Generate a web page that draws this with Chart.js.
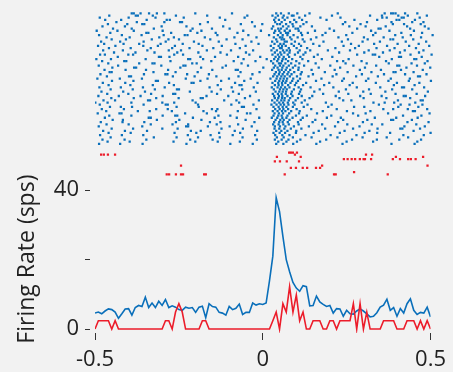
<!DOCTYPE html>
<html>
<head>
<meta charset="utf-8">
<script src="https://cdn.jsdelivr.net/npm/chart.js@4.4.1/dist/chart.umd.min.js"></script>
<style>
  body { margin: 0; background: #f2f2f2; }
  #wrap { position: relative; width: 453px; height: 372px; }
  canvas { position: absolute; left: 0; }
  #raster { top: 0; }
  #psth { top: 166px; }
</style>
</head>
<body>
<div id="wrap">
  <canvas id="raster" width="453" height="182"></canvas>
  <canvas id="psth" width="453" height="206"></canvas>
</div>
<script>
// spike times (ms) per trial, blue condition
const blueTrials = [
  [-392,-386,-366,-341,-318,-296,-205,-97,33,47,70,95,131,214,352,371,377,384,412,448],
  [-458,-380,-374,-330,-262,-170,-52,22,38,55,79,84,118,197,309,344,392,420,476],
  [-486,-401,-322,-239,-133,-60,31,52,66,101,163,222,345,358,402,408,455],
  [-470,-423,-348,-289,-280,-117,27,41,58,86,109,181,263,330,387,395,441],
  [-437,-377,-296,-250,-244,-168,-38,30,49,74,92,122,236,300,372,433,466],
  [-462,-405,-361,-355,-191,-71,-8,36,44,62,81,113,229,281,376,409,458],
  [-478,-412,-304,-231,-123,-30,24,53,69,83,104,138,248,296,355,418,470],
  [-447,-392,-327,-213,-156,-104,20,39,47,64,90,97,190,271,334,340,427,481],
  [-495,-434,-386,-301,-219,-187,-64,-12,30,42,58,73,99,147,203,312,366,438],
  [-455,-349,-343,-276,-199,-145,-81,27,46,62,68,106,126,178,257,325,401,462],
  [-488,-421,-363,-298,-236,-228,-140,-49,12,38,52,66,84,109,169,239,318,383,429,493],
  [-466,-398,-311,-268,-177,-90,-25,26,44,51,74,96,151,216,291,349,405,459],
  [-451,-409,-333,-284,-253,-161,-113,-66,33,49,56,78,111,135,244,302,369,377,436],
  [-482,-426,-357,-292,-209,-136,-40,21,36,58,64,88,116,172,226,287,338,414,474],
  [-473,-416,-370,-307,-242,-195,-87,-19,28,45,55,78,100,142,253,321,390,452],
  [-491,-440,-358,-315,-265,-184,-127,-57,17,40,50,61,85,106,160,231,276,359,424,483],
  [-459,-395,-336,-273,-222,-152,-74,25,44,49,70,93,124,207,265,328,381,444],
  [-476,-418,-346,-283,-247,-171,-100,-35,19,35,53,64,73,102,133,185,250,305,367,411,466],
  [-444,-381,-325,-258,-196,-131,-56,29,45,57,72,97,119,218,292,347,397,453],
  [-485,-471,-402,-388,-267,-241,-112,-46,22,38,48,67,88,113,155,271,317,324,428,490],
  [-433,-312,-306,-281,-190,-147,-79,-14,31,42,55,71,104,144,198,336,394,400,461],
  [-496,-453,-351,-226,-220,-182,-63,5,27,39,52,61,80,110,167,246,373,439,445],
  [-479,-414,-408,-278,-158,-92,-28,18,36,50,68,92,127,212,230,284,356,478],
  [-461,-370,-331,-325,-214,-201,-69,24,41,47,60,77,101,149,237,299,364,431,470],
  [-489,-432,-305,-240,-234,-115,-50,30,44,54,70,89,115,192,260,327,389,395,447],
  [-449,-385,-379,-249,-188,-125,-5,26,37,51,64,82,99,158,221,294,416,486],
  [-472,-410,-350,-285,-155,-86,-80,21,40,49,61,74,98,137,205,279,341,400,464],
  [-457,-451,-328,-263,-198,-72,-16,32,43,56,69,86,108,176,243,313,378,384,437],
  [-484,-356,-293,-287,-229,-165,-37,28,41,52,66,78,105,141,210,285,350,412,475],
  [-465,-400,-394,-271,-207,-143,-78,24,36,48,58,73,94,128,199,268,332,450,456],
  [-493,-427,-362,-233,-169,-106,-42,16,34,45,55,65,83,103,166,232,304,370,426],
  [-450,-387,-321,-315,-190,-129,-61,30,42,53,63,80,97,150,227,297,363,423,488],
  [-477,-411,-282,-216,-210,-88,-22,22,39,50,60,75,92,121,189,258,326,388,454],
  [-460,-396,-330,-268,-139,-75,-69,29,40,51,68,88,112,174,249,379,440],
  [-487,-424,-359,-295,-163,-98,-33,20,37,47,59,72,99,134,201,270,339,403,409,468],
  [-454,-389,-324,-259,-253,-130,-67,26,44,54,64,85,106,161,238,306,374,433],
  [-481,-417,-353,-221,-157,-94,-27,31,42,52,62,79,103,145,217,289,354,479],
  [-464,-402,-335,-270,-264,-141,-77,23,38,49,61,77,100,171,245,311,384,446],
  [-490,-430,-366,-301,-172,-108,-44,27,41,51,66,81,108,139,208,280,343,408,414,471],
  [-452,-386,-320,-254,-189,-183,-59,29,39,50,58,74,97,131,219,290,357,427],
  [-475,-441,-344,-338,-213,-120,-84,-18,21,36,48,57,70,90,117,230,254,391,458,464],
  [-499,-463,-393,-302,-267,-204,-76,28,42,53,67,83,108,179,319,352,380,442],
  [-486,-357,-292,-286,-197,-99,-34,19,34,46,56,69,87,125,196,335,399,425,463],
  [-456,-424,-391,-260,-195,-68,-62,25,40,52,63,82,114,186,262,292,392,451],
  [-480,-415,-320,-286,-156,-140,-25,30,43,54,68,93,136,211,348,377,420,477],
  [-467,-374,-339,-274,-181,-144,-80,23,37,50,60,77,102,170,241,310,435,441],
  [-492,-428,-422,-235,-171,-53,-43,28,41,53,71,100,153,259,296,362,484],
  [-458,-393,-301,-264,-258,-137,-102,25,39,49,66,91,123,195,274,406,460],
  [-471,-342,-336,-212,-148,-83,-17,20,36,51,63,81,111,182,223,323,386,449],
  [-448,-418,-318,-252,-187,-57,31,45,55,72,105,148,230,301,371,377,432],
  [-483,-419,-355,-262,-162,-131,-31,27,42,52,67,97,140,215,288,419,481],
  [-466,-401,-336,-272,-226,-142,-79,24,40,54,70,99,168,242,314,345,445],
  [-489,-361,-232,-226,-168,-104,-39,29,44,60,85,129,206,278,410,470],
  [-451,-388,-302,-257,-128,-65,28,42,57,76,107,177,259,331,398,404,456],
  [-476,-412,-347,-218,-189,-89,-23,33,48,66,92,158,234,307,437],
  [-460,-395,-266,-202,-135,-73,25,43,59,91,143,220,293,330,368,487],
  [-485,-421,-358,-227,-160,-95,-29,30,51,72,119,193,269,407,467],
  [-454,-327,-260,-197,-133,-66,35,55,82,137,213,287,358,421],
  [-478,-413,-349,-220,-154,-24,29,49,69,104,180,256,329,395,459],
  [-463,-398,-269,-205,-139,-74,39,63,94,162,240,318,448],
  [-488,-426,-360,-231,-102,-36,33,54,83,151,228,372,440]
];

// red condition: row position of each trial and its spike times (ms)
const redRows = [64, 65, 66, 67, 68, 70, 71, 73, 74];
const redTrials = [
  [71,76,82,94],
  [-482,-474,-462,-441,88,297,315],
  [35,105,385,465],
  [232,243,255,265,279,290,294,312,376,397,421,429,443],
  [29,44,64,100],
  [-247,168,478],
  [76,91,111,124,150,162],
  [262],
  [-289,-282,-262,-247,-241,-179,-174,58,203,208,361]
];

// PSTH, 10 ms bins starting at -0.5 s
const binStart = -0.5;
const binWidth = 0.01;
const blueRate = [4.6,4.9,4.4,5.2,5.8,5.6,4.9,3.1,4.4,5.8,
  5.9,4.0,6.2,6.8,6.5,9.2,6.2,7.5,6.2,8.0,
  6.8,8.5,6.2,6.7,6.3,5.6,5.4,6.3,6.0,6.2,
  4.8,6.3,6.6,3.3,7.3,6.5,6.3,4.8,4.6,4.0,
  6.5,5.6,6.0,7.2,4.2,4.8,4.8,7.5,6.9,7.3,
  7.1,7.5,13.9,21.0,37.8,33.8,26.7,20.0,16.5,13.4,
  11.8,10.9,12.5,12.2,6.7,6.8,9.5,7.8,7.1,6.5,
  6.8,4.6,5.9,5.8,3.7,5.4,4.4,4.3,5.2,5.8,
  5.2,4.4,3.5,3.7,4.7,6.3,6.9,8.6,5.4,6.2,
  3.7,5.9,4.6,7.3,8.7,5.4,4.2,4.8,4.6,6.3,3.5];
const redRate = [0,2.4,2.4,2.4,2.4,0,2.4,0,0,0,
  0,0,0,0,0,0,0,0,0,0,
  0,2.4,2.4,0,4.9,7.3,4.9,0,0,0,
  0,0,2.4,2.4,0,0,0,0,0,0,
  0,0,0,0,0,0,0,0,0,0,
  0,0,0,2.4,4.9,0,7.3,4.9,12.2,4.9,
  9.8,2.4,4.9,0,0,2.4,2.4,2.4,0,0,
  2.4,2.4,0,2.4,2.4,2.4,2.4,7.3,0,7.3,
  0,4.9,0,0,0,0,2.4,2.4,2.4,2.4,
  0,0,0,2.4,2.4,2.4,0,2.4,0,2.4,
  0];

const yTicks = [0, 20, 40];
const xTicks = [-0.5, 0, 0.5];

const BLUE = "#0a6fba";
const RED = "#ec1c2a";
const FONT = "'Open Sans', sans-serif";

// RASTER
const bluePts = [];
blueTrials.forEach((trial, i) => {
  trial.forEach((t) => bluePts.push({ x: t / 1000, y: i }));
});
const redPts = [];
redTrials.forEach((trial, k) => {
  trial.forEach((t) => redPts.push({ x: t / 1000, y: redRows[k] }));
});

const dotStyle = {
  pointStyle: "rect",
  pointRadius: 1.6,
  pointBorderWidth: 0,
  pointHoverRadius: 0,
  showLine: false,
};

new Chart(document.getElementById("raster"), {
  type: "scatter",
  data: {
    datasets: [
      { data: bluePts, backgroundColor: BLUE, ...dotStyle },
      { data: redPts, backgroundColor: RED, ...dotStyle },
    ],
  },
  options: {
    responsive: false,
    animation: false,
    events: [],
    layout: { padding: { left: 95, right: 18, top: 0, bottom: 0 } },
    scales: {
      x: { type: "linear", min: -0.5, max: 0.5, display: false },
      y: { type: "linear", min: -5.4, max: 76.8, reverse: true, display: false },
    },
    plugins: { legend: { display: false }, tooltip: { enabled: false } },
  },
});

// PSTH
const bins = blueRate.map((v, i) => binStart + i * binWidth);
const lineStyle = {
  pointRadius: 0,
  borderWidth: 1.6,
  tension: 0,
  fill: false,
};

new Chart(document.getElementById("psth"), {
  type: "line",
  data: {
    datasets: [
      { data: bins.map((x, i) => ({ x: x, y: redRate[i] })), borderColor: RED, ...lineStyle },
      { data: bins.map((x, i) => ({ x: x, y: blueRate[i] })), borderColor: BLUE, ...lineStyle },
    ],
  },
  options: {
    responsive: false,
    animation: false,
    events: [],
    layout: { padding: { left: 0, right: 18, top: 0, bottom: 0 } },
    scales: {
      x: {
        type: "linear",
        min: -0.5,
        max: 0.5,
        afterBuildTicks: (axis) => { axis.ticks = xTicks.map((v) => ({ value: v })); },
        afterFit: (axis) => { axis.height = 39; },
        border: { display: false },
        grid: { drawOnChartArea: false, tickLength: 7, color: "#333", lineWidth: 1 },
        ticks: {
          padding: 7,
          color: "#222",
          font: { family: FONT, size: 22 },
          maxRotation: 0,
          callback: (v) => String(v),
        },
      },
      y: {
        type: "linear",
        min: -1.13,
        max: 41.42,
        afterBuildTicks: (axis) => { axis.ticks = yTicks.map((v) => ({ value: v })); },
        afterFit: (axis) => { axis.width = 95; },
        border: { display: false },
        grid: { drawOnChartArea: false, tickLength: 10, tickBorderDash: [5, 5], color: "#333", lineWidth: 1 },
        ticks: {
          padding: 6,
          color: "#222",
          font: { family: FONT, size: 22 },
          callback: (v) => (v === 20 ? "" : String(v)),
        },
        title: {
          display: true,
          text: "Firing Rate (sps)",
          color: "#222",
          font: { family: FONT, size: 23 },
          padding: { top: 14, bottom: 0 },
        },
      },
    },
    plugins: { legend: { display: false }, tooltip: { enabled: false } },
  },
});
</script>
</body>
</html>
